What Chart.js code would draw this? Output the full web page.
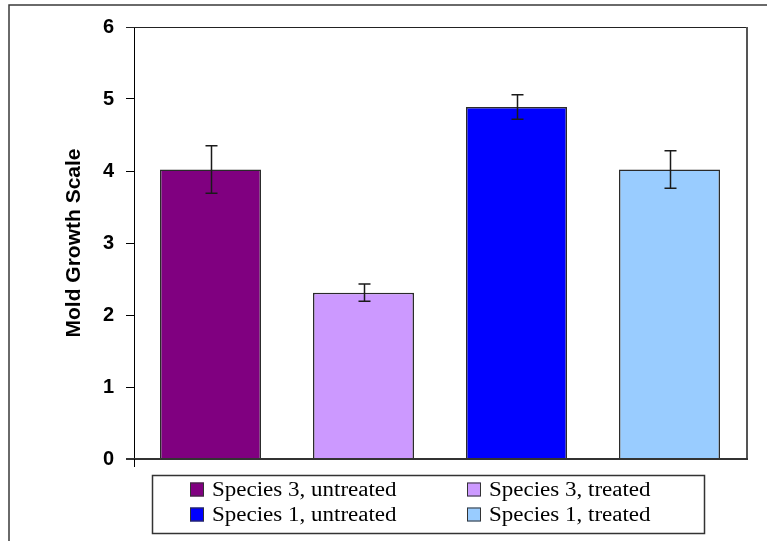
<!DOCTYPE html>
<html>
<head>
<meta charset="utf-8">
<script src="https://cdn.jsdelivr.net/npm/chart.js@4/dist/chart.umd.min.js"></script>
<style>
  html, body { margin: 0; padding: 0; background: #fff; }
  #wrap { width: 767px; height: 541px; position: relative; }
</style>
</head>
<body>
<div id="wrap"><canvas id="c" width="767" height="541"></canvas></div>
<script>
// Mean mold growth per group, with the error margin shown on each bar
const groups = ['Species 3, untreated', 'Species 3, treated', 'Species 1, untreated', 'Species 1, treated'];
const meanScores = [4.02, 2.31, 4.89, 4.02];
const errorMargins = [0.33, 0.12, 0.17, 0.26];
const barColors = ['#800080', '#cc99ff', '#0000ff', '#99ccff'];
const yMin = 0;
const yMax = 6;
const yStep = 1;
const yTitle = 'Mold Growth Scale';

// Frame around the page and the plot area (top, right, bottom lines)
const framePlugin = {
  id: 'frame',
  afterDraw(chart) {
    const ctx = chart.ctx;
    const a = chart.chartArea;
    ctx.save();
    // outer page frame
    ctx.strokeStyle = '#3a3a3a';
    ctx.lineWidth = 1.5;
    ctx.beginPath();
    ctx.moveTo(9, chart.height);
    ctx.lineTo(9, 5);
    ctx.lineTo(chart.width, 5);
    ctx.stroke();
    // plot top edge
    ctx.strokeStyle = '#222';
    ctx.lineWidth = 1;
    ctx.beginPath();
    ctx.moveTo(a.left - 8, Math.round(a.top) + 0.5);
    ctx.lineTo(a.right, Math.round(a.top) + 0.5);
    ctx.stroke();
    // plot right edge
    ctx.strokeStyle = '#555';
    ctx.lineWidth = 2;
    ctx.beginPath();
    ctx.moveTo(a.right + 1, a.top);
    ctx.lineTo(a.right + 1, a.bottom + 1);
    ctx.stroke();
    // category axis line
    ctx.strokeStyle = '#333';
    ctx.lineWidth = 2;
    ctx.beginPath();
    ctx.moveTo(a.left - 8, Math.round(a.bottom));
    ctx.lineTo(a.right + 2, Math.round(a.bottom));
    ctx.stroke();
    // value axis extends below the baseline
    ctx.strokeStyle = '#000';
    ctx.lineWidth = 1;
    ctx.beginPath();
    ctx.moveTo(Math.round(a.left) + 0.5, a.bottom);
    ctx.lineTo(Math.round(a.left) + 0.5, a.bottom + 8);
    ctx.stroke();
    ctx.restore();
  }
};

// Vertical error bars with caps
const errorBarPlugin = {
  id: 'errorBars',
  afterDatasetsDraw(chart) {
    const ctx = chart.ctx;
    const y = chart.scales.y;
    const meta = chart.getDatasetMeta(0);
    ctx.save();
    ctx.strokeStyle = '#1a1a1a';
    ctx.lineWidth = 1.5;
    meta.data.forEach((bar, i) => {
      const x = Math.round(bar.x) + 0.5;
      const hi = y.getPixelForValue(meanScores[i] + errorMargins[i]);
      const lo = y.getPixelForValue(meanScores[i] - errorMargins[i]);
      const cap = 6;
      ctx.beginPath();
      ctx.moveTo(x, hi); ctx.lineTo(x, lo);
      ctx.moveTo(x - cap, hi); ctx.lineTo(x + cap, hi);
      ctx.moveTo(x - cap, lo); ctx.lineTo(x + cap, lo);
      ctx.stroke();
    });
    ctx.restore();
  }
};

// Boxed two-column legend below the plot
const boxLegendPlugin = {
  id: 'boxLegend',
  afterDraw(chart) {
    const ctx = chart.ctx;
    const box = { x: 152, y: 475, w: 552, h: 58 };
    ctx.save();
    ctx.strokeStyle = '#333';
    ctx.lineWidth = 1.5;
    ctx.strokeRect(box.x + 0.5, box.y + 0.5, box.w, box.h);
    const cols = [190, 467];
    const rows = [489.5, 514.5];
    const sw = 14;
    ctx.font = '20px "Liberation Serif", "Times New Roman", serif';
    ctx.textBaseline = 'middle';
    ctx.fillStyle = '#000';
    groups.forEach((label, i) => {
      const cx = cols[i % 2];
      const cy = rows[Math.floor(i / 2)];
      ctx.fillStyle = barColors[i];
      ctx.fillRect(cx, cy - sw / 2, sw, sw);
      ctx.strokeStyle = '#333';
      ctx.lineWidth = 1;
      ctx.strokeRect(cx + 0.5, cy - sw / 2 + 0.5, sw - 1, sw - 1);
      ctx.save();
      ctx.translate(cx + sw + 8, cy + 1);
      ctx.scale(1.15, 1);
      ctx.fillStyle = '#000';
      ctx.fillText(label, 0, 0);
      ctx.restore();
    });
    ctx.restore();
  }
};

new Chart(document.getElementById('c'), {
  type: 'bar',
  data: {
    labels: groups,
    datasets: [{
      data: meanScores,
      backgroundColor: barColors,
      borderColor: '#2a2a2a',
      borderWidth: 1.5,
      barPercentage: 0.66,
      categoryPercentage: 1.0
    }]
  },
  options: {
    responsive: false,
    devicePixelRatio: 1,
    animation: false,
    layout: { padding: { top: 27, right: 21, bottom: 82, left: 0 } },
    plugins: {
      legend: { display: false },
      tooltip: { enabled: false }
    },
    scales: {
      x: { display: false },
      y: {
        min: yMin,
        max: yMax,
        afterFit(scale) { scale.width = 134; },
        ticks: {
          stepSize: yStep,
          color: '#000',
          padding: 12,
          font: { family: '"Liberation Sans", Arial, sans-serif', size: 20, weight: 'bold' }
        },
        grid: {
          drawOnChartArea: false,
          drawTicks: true,
          tickLength: 8,
          color: '#000',
          lineWidth: 1
        },
        border: { display: true, color: '#000', width: 1 },
        title: {
          display: true,
          text: yTitle,
          color: '#000',
          padding: { top: 62, bottom: 0 },
          font: { family: '"Liberation Sans", Arial, sans-serif', size: 21, weight: 'bold' }
        }
      }
    }
  },
  plugins: [framePlugin, errorBarPlugin, boxLegendPlugin]
});
</script>
</body>
</html>
